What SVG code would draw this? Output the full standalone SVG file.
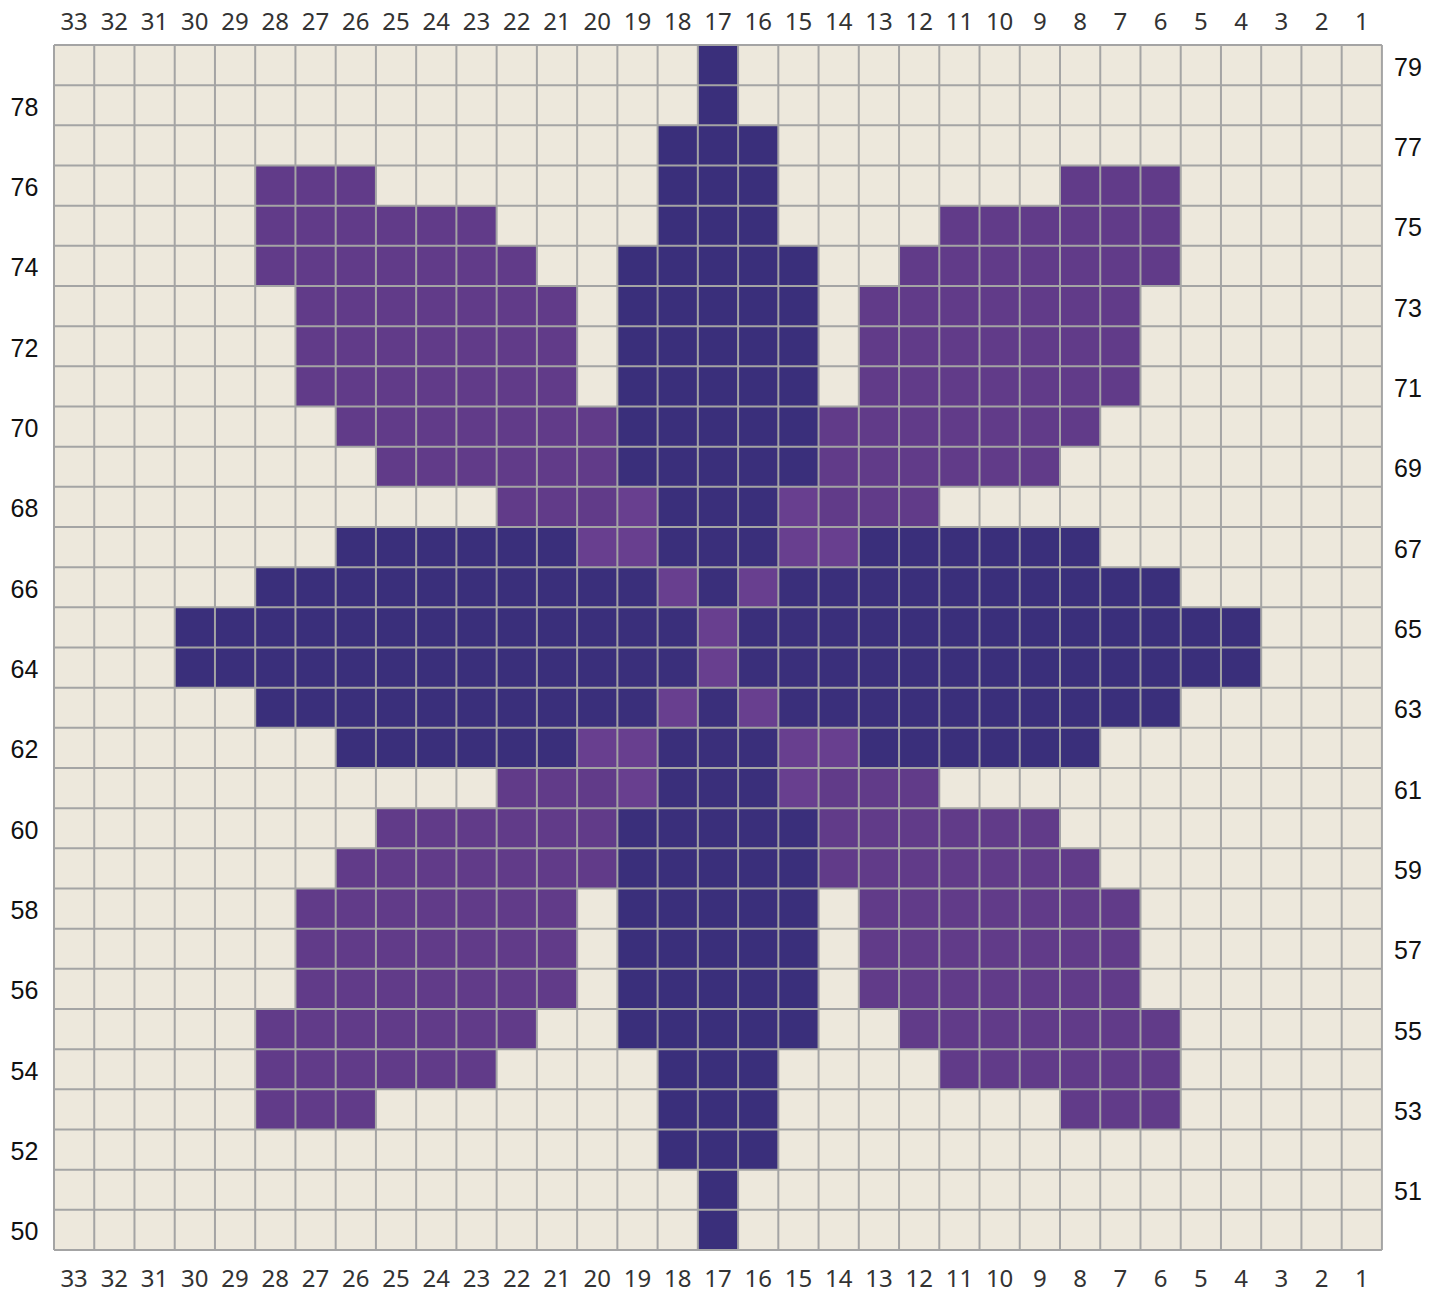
<svg xmlns="http://www.w3.org/2000/svg" width="1440" height="1294" viewBox="0 0 1440 1294">
<style>
.d{fill:#3A2F7B}
.p{fill:#613B89}
.a{fill:#683F8F}
.grid{fill:none;stroke:#A4A4A4;stroke-width:2}
.cl{font-family:"Noto Sans","Open Sans",sans-serif;font-size:24px;fill:#333;text-anchor:middle}
.rl{font-family:"Liberation Sans",Arial,sans-serif;font-size:25px;fill:#111;text-anchor:middle}
</style>
<rect width="1440" height="1294" fill="#FFFFFF"/>
<g id="chart" transform="translate(54 45) scale(40.24 40.1667)">
<rect x="0" y="0" width="33" height="30" fill="#EDE8DC"/>
<g id="dark">
<rect class="d" x="16" y="0" width="1" height="30"/>
<rect class="d" x="15" y="2" width="3" height="26"/>
<rect class="d" x="14" y="5" width="5" height="20"/>
<rect class="d" x="7" y="12" width="6" height="1"/>
<rect class="d" x="20" y="12" width="6" height="1"/>
<rect class="d" x="7" y="17" width="6" height="1"/>
<rect class="d" x="20" y="17" width="6" height="1"/>
<rect class="d" x="5" y="13" width="23" height="1"/>
<rect class="d" x="5" y="16" width="23" height="1"/>
<rect class="d" x="3" y="14" width="27" height="2"/>
</g>
<g id="petals">
<rect class="p" x="5" y="3" width="3" height="1"/>
<rect class="p" x="5" y="4" width="6" height="1"/>
<rect class="p" x="5" y="5" width="7" height="1"/>
<rect class="p" x="6" y="6" width="7" height="3"/>
<rect class="p" x="7" y="9" width="7" height="1"/>
<rect class="p" x="8" y="10" width="6" height="1"/>
<rect class="p" x="11" y="11" width="3" height="1"/>
<rect class="p" x="25" y="3" width="3" height="1"/>
<rect class="p" x="22" y="4" width="6" height="1"/>
<rect class="p" x="21" y="5" width="7" height="1"/>
<rect class="p" x="20" y="6" width="7" height="3"/>
<rect class="p" x="19" y="9" width="7" height="1"/>
<rect class="p" x="19" y="10" width="6" height="1"/>
<rect class="p" x="19" y="11" width="3" height="1"/>
<rect class="p" x="5" y="26" width="3" height="1"/>
<rect class="p" x="5" y="25" width="6" height="1"/>
<rect class="p" x="5" y="24" width="7" height="1"/>
<rect class="p" x="6" y="21" width="7" height="3"/>
<rect class="p" x="7" y="20" width="7" height="1"/>
<rect class="p" x="8" y="19" width="6" height="1"/>
<rect class="p" x="11" y="18" width="3" height="1"/>
<rect class="p" x="25" y="26" width="3" height="1"/>
<rect class="p" x="22" y="25" width="6" height="1"/>
<rect class="p" x="21" y="24" width="7" height="1"/>
<rect class="p" x="20" y="21" width="7" height="3"/>
<rect class="p" x="19" y="20" width="7" height="1"/>
<rect class="p" x="19" y="19" width="6" height="1"/>
<rect class="p" x="19" y="18" width="3" height="1"/>
</g>
<g id="accents">
<rect class="a" x="14" y="11" width="1" height="1"/>
<rect class="a" x="18" y="11" width="1" height="1"/>
<rect class="a" x="13" y="12" width="2" height="1"/>
<rect class="a" x="18" y="12" width="2" height="1"/>
<rect class="a" x="15" y="13" width="1" height="1"/>
<rect class="a" x="17" y="13" width="1" height="1"/>
<rect class="a" x="16" y="14" width="1" height="2"/>
<rect class="a" x="15" y="16" width="1" height="1"/>
<rect class="a" x="17" y="16" width="1" height="1"/>
<rect class="a" x="13" y="17" width="2" height="1"/>
<rect class="a" x="18" y="17" width="2" height="1"/>
<rect class="a" x="14" y="18" width="1" height="1"/>
<rect class="a" x="18" y="18" width="1" height="1"/>
</g>
<path class="grid" vector-effect="non-scaling-stroke" d="M0 0V30M1 0V30M2 0V30M3 0V30M4 0V30M5 0V30M6 0V30M7 0V30M8 0V30M9 0V30M10 0V30M11 0V30M12 0V30M13 0V30M14 0V30M15 0V30M16 0V30M17 0V30M18 0V30M19 0V30M20 0V30M21 0V30M22 0V30M23 0V30M24 0V30M25 0V30M26 0V30M27 0V30M28 0V30M29 0V30M30 0V30M31 0V30M32 0V30M33 0V30M0 0H33M0 1H33M0 2H33M0 3H33M0 4H33M0 5H33M0 6H33M0 7H33M0 8H33M0 9H33M0 10H33M0 11H33M0 12H33M0 13H33M0 14H33M0 15H33M0 16H33M0 17H33M0 18H33M0 19H33M0 20H33M0 21H33M0 22H33M0 23H33M0 24H33M0 25H33M0 26H33M0 27H33M0 28H33M0 29H33M0 30H33"/>
</g>
<g id="top-labels" class="cl">
<text x="74.12" y="30">33</text><text x="114.36" y="30">32</text><text x="154.6" y="30">31</text><text x="194.84" y="30">30</text><text x="235.08" y="30">29</text><text x="275.32" y="30">28</text><text x="315.56" y="30">27</text><text x="355.8" y="30">26</text><text x="396.04" y="30">25</text><text x="436.28" y="30">24</text><text x="476.52" y="30">23</text><text x="516.76" y="30">22</text><text x="557" y="30">21</text><text x="597.24" y="30">20</text><text x="637.48" y="30">19</text><text x="677.72" y="30">18</text><text x="717.96" y="30">17</text><text x="758.2" y="30">16</text><text x="798.44" y="30">15</text><text x="838.68" y="30">14</text><text x="878.92" y="30">13</text><text x="919.16" y="30">12</text><text x="959.4" y="30">11</text><text x="999.64" y="30">10</text><text x="1039.88" y="30">9</text><text x="1080.12" y="30">8</text><text x="1120.36" y="30">7</text><text x="1160.6" y="30">6</text><text x="1200.84" y="30">5</text><text x="1241.08" y="30">4</text><text x="1281.32" y="30">3</text><text x="1321.56" y="30">2</text><text x="1361.8" y="30">1</text>
</g>
<g id="bottom-labels" class="cl">
<text x="74.12" y="1287">33</text><text x="114.36" y="1287">32</text><text x="154.6" y="1287">31</text><text x="194.84" y="1287">30</text><text x="235.08" y="1287">29</text><text x="275.32" y="1287">28</text><text x="315.56" y="1287">27</text><text x="355.8" y="1287">26</text><text x="396.04" y="1287">25</text><text x="436.28" y="1287">24</text><text x="476.52" y="1287">23</text><text x="516.76" y="1287">22</text><text x="557" y="1287">21</text><text x="597.24" y="1287">20</text><text x="637.48" y="1287">19</text><text x="677.72" y="1287">18</text><text x="717.96" y="1287">17</text><text x="758.2" y="1287">16</text><text x="798.44" y="1287">15</text><text x="838.68" y="1287">14</text><text x="878.92" y="1287">13</text><text x="919.16" y="1287">12</text><text x="959.4" y="1287">11</text><text x="999.64" y="1287">10</text><text x="1039.88" y="1287">9</text><text x="1080.12" y="1287">8</text><text x="1120.36" y="1287">7</text><text x="1160.6" y="1287">6</text><text x="1200.84" y="1287">5</text><text x="1241.08" y="1287">4</text><text x="1281.32" y="1287">3</text><text x="1321.56" y="1287">2</text><text x="1361.8" y="1287">1</text>
</g>
<g id="left-labels" class="rl">
<text x="24.5" y="115.8">78</text><text x="24.5" y="196.1">76</text><text x="24.5" y="276.4">74</text><text x="24.5" y="356.8">72</text><text x="24.5" y="437.1">70</text><text x="24.5" y="517.4">68</text><text x="24.5" y="597.8">66</text><text x="24.5" y="678.1">64</text><text x="24.5" y="758.4">62</text><text x="24.5" y="838.8">60</text><text x="24.5" y="919.1">58</text><text x="24.5" y="999.4">56</text><text x="24.5" y="1079.8">54</text><text x="24.5" y="1160.1">52</text><text x="24.5" y="1240.4">50</text>
</g>
<g id="right-labels" class="rl">
<text x="1408" y="75.6">79</text><text x="1408" y="155.9">77</text><text x="1408" y="236.3">75</text><text x="1408" y="316.6">73</text><text x="1408" y="396.9">71</text><text x="1408" y="477.3">69</text><text x="1408" y="557.6">67</text><text x="1408" y="637.9">65</text><text x="1408" y="718.3">63</text><text x="1408" y="798.6">61</text><text x="1408" y="878.9">59</text><text x="1408" y="959.3">57</text><text x="1408" y="1039.6">55</text><text x="1408" y="1119.9">53</text><text x="1408" y="1200.3">51</text>
</g>
</svg>
